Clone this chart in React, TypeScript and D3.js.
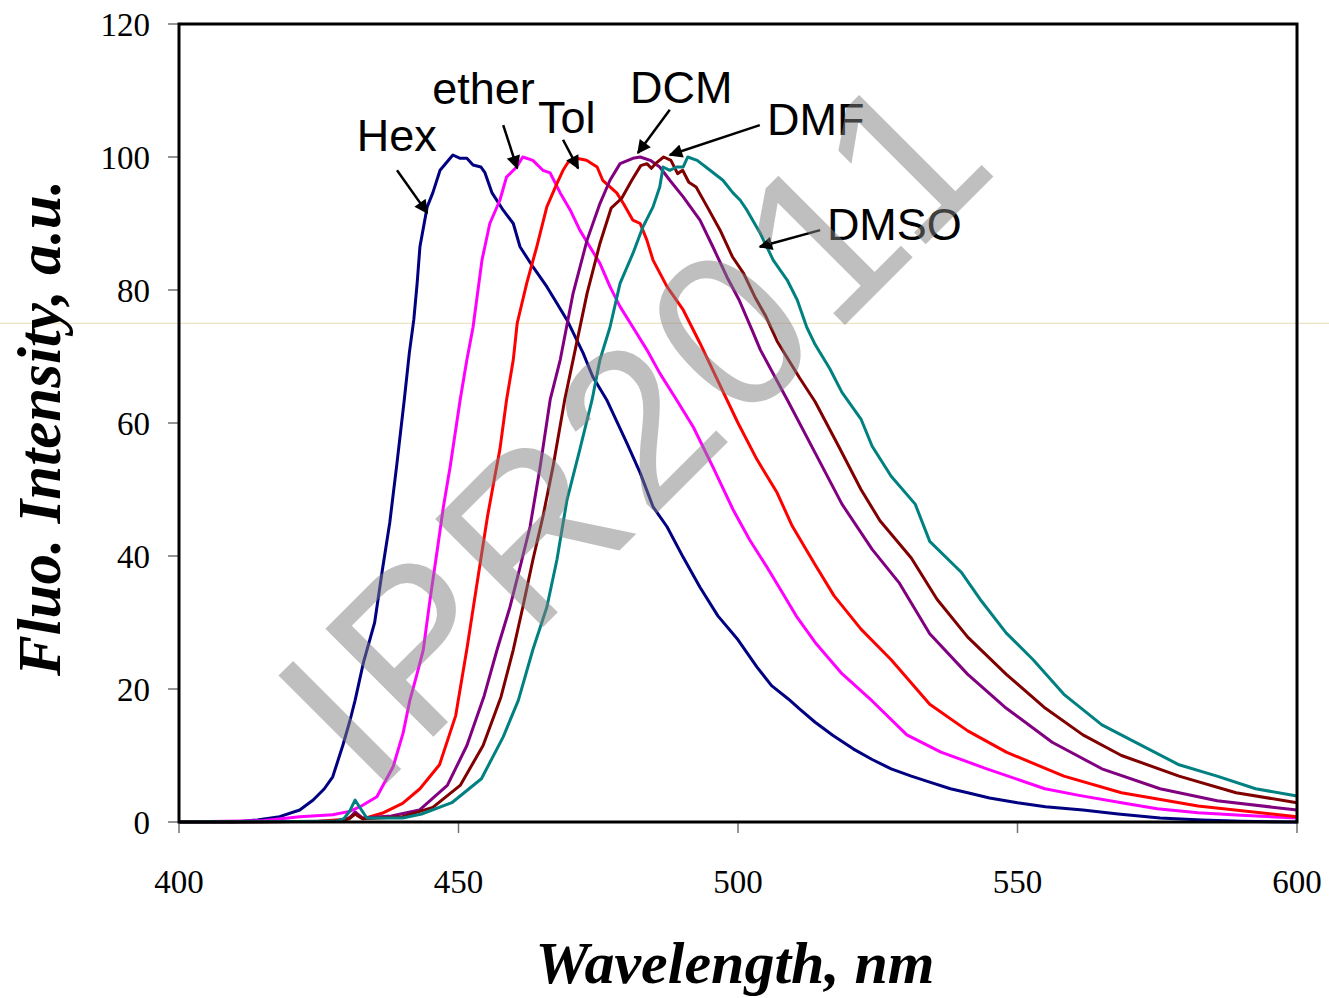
import React from "react";
import * as d3 from "d3";

// wavelength (nm), fluorescence intensity (a.u.)
const hexData: [number, number][] = [
  [400, 0], [410, 0], [414, 0.3], [418, 0.8], [421.6, 1.8], [424, 3.3], [426, 5], [427.5, 6.8],
  [429.3, 11.5], [430.6, 15.3], [431.5, 18.3], [433, 24], [435, 30], [436.4, 38], [437.7, 45],
  [439, 54], [440.3, 63.5], [441.2, 70.5], [442, 75.5], [442.6, 81], [443.1, 86.5], [444.4, 92.5],
  [445.4, 94.6], [446.7, 98], [448.5, 99.8], [449, 100.3], [450.3, 99.8], [451.5, 99.8],
  [452.6, 98.8], [454, 98.5], [454.7, 97.7], [456, 94.6], [458, 92], [459.8, 90], [461, 86.5],
  [463.3, 83.5], [465.8, 80.5], [467.6, 78], [469.4, 75.5], [472.3, 70.5], [474, 67], [476.5, 63.5],
  [480.1, 57], [482.5, 52.5], [484.8, 47.4], [487.3, 44.4], [490.2, 39.8], [493.2, 35.3],
  [496.4, 31], [500, 27.4], [503.4, 23.3], [506, 20.5], [509, 18.5], [511, 17], [513.8, 15],
  [517, 13], [520.6, 11], [524, 9.4], [527.4, 8], [531, 6.9], [534.3, 6], [538, 5], [541.1, 4.4],
  [545, 3.6], [550, 2.9], [555, 2.3], [561.7, 1.8], [568, 1.2], [575.5, 0.6], [583, 0.3],
  [590, 0.1], [600, 0],
];

const etherData: [number, number][] = [
  [400, 0], [415, 0.2], [421.6, 0.8], [427.5, 1.1], [430.5, 1.6], [432.4, 2.3], [435.4, 3.8],
  [438.3, 8.3], [440.1, 13.4], [441.3, 18.3], [442.5, 22], [443.7, 25.9], [444.9, 33.4],
  [446.2, 40.9], [447.3, 47.4], [448.5, 53.4], [450.3, 63.5], [451.5, 69.5], [452.6, 74.4],
  [454.2, 84.5], [455.6, 90], [457.4, 93.5], [458.6, 97], [460.4, 98.5], [461.5, 100],
  [463.3, 99.5], [465.1, 98], [466.4, 97.6], [468.2, 94.6], [470, 92], [471.7, 89], [473.5, 86.5],
  [475.3, 84], [477.1, 80.5], [478.9, 77.5], [481.2, 74.4], [483.7, 71], [486, 67.5], [489, 63.5],
  [492, 59.4], [495.5, 53.4], [499.1, 47], [502.1, 42.4], [505.2, 38.3], [508, 34.4],
  [510.4, 31], [513.8, 27], [518.6, 22.3], [524, 18.2], [530.2, 13.1], [536.3, 10.5],
  [544.5, 8], [554.9, 5], [561, 4], [568.6, 2.9], [575, 2], [582.3, 1.4], [590, 1], [600, 0.6],
];

const tolData: [number, number][] = [
  [400, 0], [425, 0.1], [430, 0.4], [431.5, 1.2], [433, 0.5], [436.6, 1.4], [440, 2.8],
  [443.1, 5], [446.6, 8.6], [449.5, 16], [451.5, 26], [452.6, 32], [453.8, 38.5], [455.2, 46],
  [456.5, 52], [457.4, 56], [458.6, 63.5], [459.8, 69.5], [460.5, 75], [462.2, 81], [464, 86.5],
  [465.8, 92.5], [467.6, 96], [468.7, 98], [469.6, 99.2], [471.1, 99.8], [472.9, 99.5],
  [474.8, 98.5], [475.8, 96.5], [477.1, 95.5], [478.3, 94.6], [479.5, 93], [481.2, 90.5],
  [482.5, 90], [483.7, 87.5], [484.8, 84.5], [487.3, 80.5], [490.2, 77], [493.2, 72],
  [496.6, 66], [500, 60], [503.4, 54.5], [507, 49.5], [509.7, 44.5], [513.8, 38.7],
  [517.2, 34], [522, 29], [527.4, 24.4], [534.3, 17.7], [541.1, 13.7], [548, 10.5],
  [558.3, 6.9], [568.6, 4.4], [582.3, 2.4], [600, 0.8],
];

const dcmData: [number, number][] = [
  [400, 0], [428, 0.1], [430.5, 0.6], [431.5, 1.5], [432.8, 0.6], [438, 0.9], [443, 1.8],
  [448, 5.5], [451.5, 11.5], [454.6, 19], [456.9, 25.9], [459.2, 32.3], [461, 38.3],
  [462.8, 44.4], [464.6, 53.4], [466.4, 63.5], [468.2, 69.5], [470.5, 79.5], [473, 87.5],
  [475.3, 93], [477.1, 96.5], [478.9, 99], [481.2, 99.8], [482.5, 100], [484.3, 99.5],
  [486, 98.5], [487.8, 96.5], [490.2, 94], [493.2, 90.5], [495.5, 86.5], [498, 82],
  [500.2, 78.5], [502.5, 74], [504, 71], [509, 63.2], [513.8, 55.5], [518.6, 47.8], [524, 41],
  [528.8, 36], [534.3, 28.3], [541.1, 22.2], [548, 17.1], [556.2, 12], [565.1, 8], [575.5, 5],
  [585.7, 3.2], [600, 1.8],
];

const dmfData: [number, number][] = [
  [400, 0], [428, 0.1], [430.5, 0.5], [431.5, 1.2], [432.8, 0.5], [440, 0.8], [445.4, 2.2],
  [450.3, 5.5], [454.4, 11.5], [457.6, 18.8], [459.8, 25.9], [461.5, 32.3], [463.3, 39.4],
  [465.1, 45.9], [466.9, 53.4], [469, 63.5], [470.5, 69.5], [473, 79.5], [475.3, 87],
  [477.3, 92.3], [479.2, 93.8], [481, 96.5], [482.6, 98.7], [483.7, 99], [484.5, 98.3],
  [485.5, 99.2], [486.7, 100], [488, 99.5], [489.2, 97.5], [490.1, 98], [491.2, 96.2],
  [492.5, 95.5], [494.5, 92.5], [496.8, 89], [499, 85], [501, 82.5], [503, 79], [505, 76],
  [507, 72.3], [511, 66.8], [513.8, 63.2], [518, 56.5], [522, 50], [525.4, 45.3], [531, 39.7],
  [535.6, 33.5], [541.1, 27.8], [548, 22.2], [555, 17.1], [561.7, 13.1], [568.6, 10],
  [578.9, 6.9], [589.1, 4.4], [600, 2.9],
];

const dmsoData: [number, number][] = [
  [400, 0], [428, 0.1], [429.5, 0.5], [430.5, 1.6], [431.5, 3.3], [432.5, 2], [433.6, 0.6],
  [440, 0.6], [443.4, 1.2], [448.8, 2.9], [454.1, 6.5], [458, 12.8], [460.7, 18.3],
  [463.3, 25.9], [465.8, 32.3], [467.6, 39.4], [469.4, 48.4], [471.7, 56], [473.9, 63.5],
  [475.3, 69.5], [477.1, 74.4], [478.9, 81], [481.2, 85.5], [483, 89.5], [484.8, 92.5],
  [486, 95.5], [486.6, 98.5], [487.8, 98], [489, 98.5], [490.2, 98.5], [491, 100],
  [492.7, 99.5], [495, 98], [497.3, 96.5], [499.1, 94.6], [500.4, 93.5], [501.6, 92],
  [504, 88.5], [506.3, 84.5], [508.8, 81.5], [510.6, 78.5], [512.3, 74.4], [513.8, 71.8],
  [516.4, 68.2], [518.6, 64.6], [522, 60.6], [524, 56.5], [527.4, 52], [531.7, 47.8],
  [534.3, 42.2], [539.9, 37.6], [543.3, 33.5], [548, 28.4], [552.8, 24.4], [558.3, 19.2],
  [565.1, 14.6], [572, 11.6], [578.9, 8.6], [585.7, 6.9], [592.6, 5], [600, 3.9],
];

const seriesNames = ["Hex", "ether", "Tol", "DCM", "DMF", "DMSO"];
const seriesColors = ["#000080", "#FF00FF", "#FF0000", "#800080", "#800000", "#008080"];
const seriesData = [hexData, etherData, tolData, dcmData, dmfData, dmsoData];

const xTicks = [400, 450, 500, 550, 600];
const yTicks = [0, 20, 40, 60, 80, 100, 120];

// label anchor (nm, value) and arrow tail/head (nm, value)
const labelPos: [number, number][] = [
  [431.8, 100.9], [445.3, 108], [464.2, 103.6], [480.7, 108.1], [505.2, 103.3], [515.9, 87.5],
];
const arrowTail: [number, number][] = [
  [439, 98], [458, 104.8], [468.7, 102.6], [487.8, 107.1], [503.9, 104.8], [514.7, 89],
];
const arrowHead: [number, number][] = [
  [444.4, 91.6], [460.5, 98.3], [471.4, 98.3], [482.1, 100.6], [487.8, 100.3], [503.9, 86.5],
];

export default function App() {
  const x = d3.scaleLinear().domain([400, 600]).range([179, 1297]);
  const y = d3.scaleLinear().domain([0, 120]).range([822, 24]);
  const line = d3
    .line<[number, number]>()
    .x((d) => x(d[0]))
    .y((d) => y(d[1]));

  const serif = "'Liberation Serif', 'Times New Roman', serif";
  const sans = "'Liberation Sans', Arial, sans-serif";

  return (
    <svg
      width={1329}
      height={998}
      style={{ position: "absolute", left: 0, top: 0, background: "#fff" }}
    >
      <defs>
        <marker
          id="arr"
          viewBox="0 0 10 10"
          refX="9"
          refY="5"
          markerWidth="6"
          markerHeight="5.5"
          orient="auto"
        >
          <path d="M0,0 L10,5 L0,10 z" fill="#000" />
        </marker>
      </defs>
      <rect x={0} y={0} width={1329} height={998} fill="#fff" />
      {/* faint horizontal artifact line */}
      <line x1={0} x2={1329} y1={y(75)} y2={y(75)} stroke="#e8dcb4" strokeWidth={1} />

      {/* ticks */}
      {yTicks.map((t) => (
        <line key={"yt" + t} x1={168} x2={179} y1={y(t)} y2={y(t)} stroke="#707070" strokeWidth={1.5} />
      ))}
      {xTicks.map((t) => (
        <line key={"xt" + t} x1={x(t)} x2={x(t)} y1={822} y2={833} stroke="#707070" strokeWidth={1.5} />
      ))}

      {/* series */}
      {seriesData.map((d, i) => (
        <path
          key={seriesNames[i]}
          d={line(d) || ""}
          fill="none"
          stroke={seriesColors[i]}
          strokeWidth={3}
          strokeLinejoin="round"
        />
      ))}

      {/* frame */}
      <rect x={179} y={24} width={1118} height={798} fill="none" stroke="#000" strokeWidth={3} />

      {/* tick labels */}
      {yTicks.map((t) => (
        <text
          key={"yl" + t}
          x={150}
          y={y(t)}
          dy="0.35em"
          textAnchor="end"
          fontFamily={serif}
          fontSize={33}
          fill="#000"
        >
          {t}
        </text>
      ))}
      {xTicks.map((t) => (
        <text
          key={"xl" + t}
          x={x(t)}
          y={893}
          textAnchor="middle"
          fontFamily={serif}
          fontSize={33}
          fill="#000"
        >
          {t}
        </text>
      ))}

      {/* axis titles */}
      <text
        x={735}
        y={983}
        textAnchor="middle"
        fontFamily={serif}
        fontSize={60}
        fontWeight="bold"
        fontStyle="italic"
      >
        Wavelength, nm
      </text>
      <text
        transform="translate(60,428) rotate(-90)"
        textAnchor="middle"
        fontFamily={serif}
        fontSize={61}
        fontWeight="bold"
        fontStyle="italic"
      >
        Fluo. Intensity, a.u.
      </text>

      {/* annotations */}
      {seriesNames.map((n, i) => (
        <g key={"ann" + n}>
          <line
            x1={x(arrowTail[i][0])}
            y1={y(arrowTail[i][1])}
            x2={x(arrowHead[i][0])}
            y2={y(arrowHead[i][1])}
            stroke="#000"
            strokeWidth={2.5}
            markerEnd="url(#arr)"
          />
          <text x={x(labelPos[i][0])} y={y(labelPos[i][1])} fontFamily={sans} fontSize={45} fill="#000">
            {n}
          </text>
        </g>
      ))}

      {/* watermark */}
      <text
        transform="translate(372,798) rotate(-45)"
        fontFamily={sans}
        fontSize={222}
        letterSpacing={7}
        fill="#808080"
        fillOpacity={0.5}
      >
        IPR2011
      </text>
    </svg>
  );
}
